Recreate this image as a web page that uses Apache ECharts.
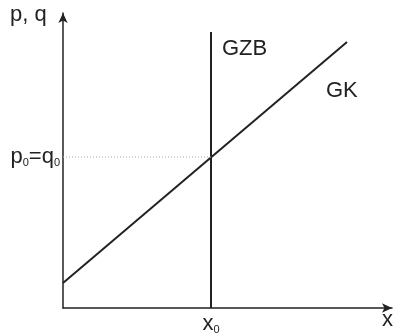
<!DOCTYPE html>
<html>
<head>
  <meta charset="UTF-8">
  <title>GK GZB</title>
  <style>
    * { padding: 0; margin: 0; }
    html, body { width: 100%; height: 100%; background: #fff; }
    #chart { width: 396px; height: 334px; }
  </style>
  <script src="https://cdn.jsdelivr.net/npm/echarts@6/dist/echarts.min.js"></script>
</head>
<body>
  <div id="chart"></div>
  <script>
    // data (axis units)
    var gkX = [0, 284];
    var gkY = [25, 266];
    var x0 = 148;
    var p0 = 151;
    var gzbY = [0, 276];

    var chart = echarts.init(document.querySelector('#chart'));
    var font = 'Liberation Sans, Arial, sans-serif';
    var ink = '#222';

    var labelRich = {
      a: { fontSize: 22, color: ink, fontFamily: font },
      s: { fontSize: 11, color: ink, fontFamily: font, verticalAlign: 'bottom', padding: [9, 0, 0, 0] }
    };

    var option = {
      backgroundColor: '#fff',
      animation: false,
      grid: { left: 63, right: 4, top: 13, bottom: 26, outerBoundsMode: 'none', containLabel: false },
      xAxis: {
        type: 'value', min: 0, max: 329,
        splitLine: { show: false },
        axisTick: { show: false },
        axisLine: {
          onZero: false,
          lineStyle: { color: ink, width: 1.5 },
          symbol: ['none', 'arrow'], symbolSize: [7, 10]
        },
        axisLabel: {
          customValues: [x0],
          margin: 5,
          formatter: function () { return '{a|x}{s|0}'; },
          rich: labelRich
        }
      },
      yAxis: {
        type: 'value', min: 0, max: 295,
        splitLine: { show: false },
        axisTick: { show: false },
        axisLine: {
          onZero: false,
          lineStyle: { color: ink, width: 1.5 },
          symbol: ['none', 'arrow'], symbolSize: [7, 10]
        },
        axisLabel: {
          customValues: [p0],
          margin: 3,
          formatter: function () { return '{a|p}{s|0}{a|=q}{s|0}'; },
          rich: labelRich
        }
      },
      graphic: [
        { type: 'text', left: 10, top: 4, style: { text: 'p, q', font: '22px ' + font, fill: ink } },
        { type: 'text', left: 222, top: 38, style: { text: 'GZB', font: '22px ' + font, fill: ink } },
        { type: 'text', left: 326, top: 80, style: { text: 'GK', font: '22px ' + font, fill: ink } },
        { type: 'text', left: 382, top: 309, style: { text: 'x', font: '22px ' + font, fill: ink } }
      ],
      series: [
        {
          type: 'line', name: 'GK', symbol: 'none',
          lineStyle: { color: ink, width: 2 },
          data: [[gkX[0], gkY[0]], [gkX[1], gkY[1]]]
        },
        {
          type: 'line', name: 'GZB', symbol: 'none',
          lineStyle: { color: ink, width: 2 },
          data: [[x0, gzbY[0]], [x0, gzbY[1]]]
        },
        {
          type: 'line', name: 'guide', symbol: 'none',
          lineStyle: { color: '#aaa', width: 1, type: [1, 2] },
          data: [[0, p0], [x0, p0]]
        }
      ]
    };
    chart.setOption(option);
  </script>
</body>
</html>
